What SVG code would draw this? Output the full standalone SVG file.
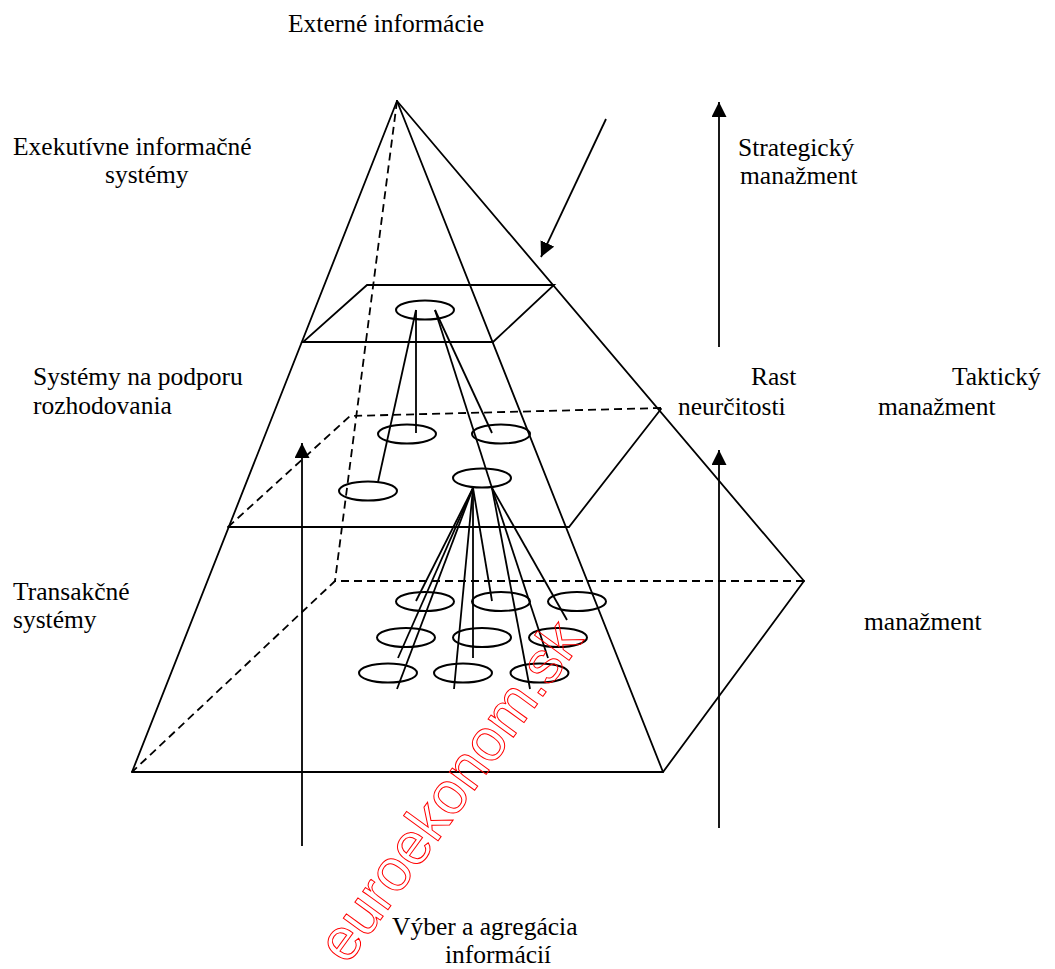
<svg xmlns="http://www.w3.org/2000/svg" width="1055" height="969" viewBox="0 0 1055 969">
<style>
.s{fill:none;stroke:#000;stroke-width:1.8;stroke-linecap:round}
.d{fill:none;stroke:#000;stroke-width:1.8;stroke-dasharray:8 5}
.e{fill:none;stroke:#000;stroke-width:2}
.c{fill:none;stroke:#000;stroke-width:1.8}
.a{fill:none;stroke:#000;stroke-width:1.8;marker-end:url(#ah)}
text{font-family:"Liberation Serif","Times New Roman",serif;font-size:25.5px;fill:#000}
.wm{font-family:"Liberation Sans",Arial,sans-serif;font-size:59px;fill:none;stroke:#f00;stroke-width:1}
</style>
<defs>
<marker id="ah" viewBox="0 0 15 15" refX="15" refY="7.5" markerWidth="15" markerHeight="15" orient="auto" markerUnits="userSpaceOnUse">
<path d="M0,0 L15,7.5 L0,15 Z" fill="#000"/>
</marker>
</defs>
<rect width="1055" height="969" fill="#fff"/>

<g id="pyramid">
<line class="s" x1="397" y1="101" x2="132" y2="772"/>
<line class="s" x1="397" y1="101" x2="663" y2="772"/>
<line class="s" x1="397" y1="101" x2="804" y2="581"/>
<line class="d" x1="397" y1="101" x2="335" y2="581"/>
</g>

<g id="plane-top">
<polygon class="s" points="303,342 493,342 554,285 367,285"/>
</g>

<g id="plane-middle">
<polyline class="s" points="228,527 569,527 661,409"/>
<polyline class="d" points="661,408 350,416 228,527"/>
</g>

<g id="plane-bottom">
<polyline class="s" points="132,772 663,772 804,581"/>
<polyline class="d" points="804,581 335,581 132,772"/>
</g>

<g id="ellipse-top"><ellipse class="e" cx="425" cy="310" rx="29" ry="9.5"/></g>
<g id="ellipse-mid-1"><ellipse class="e" cx="407" cy="434" rx="29" ry="9.5"/></g>
<g id="ellipse-mid-2"><ellipse class="e" cx="501" cy="434" rx="29" ry="9.5"/></g>
<g id="ellipse-mid-3"><ellipse class="e" cx="482" cy="478" rx="29" ry="9.5"/></g>
<g id="ellipse-mid-4"><ellipse class="e" cx="368" cy="491" rx="29" ry="9.5"/></g>
<g id="ellipse-low-11"><ellipse class="e" cx="425" cy="601.5" rx="29" ry="9.5"/></g>
<g id="ellipse-low-12"><ellipse class="e" cx="501" cy="601.5" rx="29" ry="9.5"/></g>
<g id="ellipse-low-13"><ellipse class="e" cx="577" cy="601.5" rx="29" ry="9.5"/></g>
<g id="ellipse-low-21"><ellipse class="e" cx="406" cy="637.5" rx="29" ry="9.5"/></g>
<g id="ellipse-low-22"><ellipse class="e" cx="482" cy="637.5" rx="29" ry="9.5"/></g>
<g id="ellipse-low-23"><ellipse class="e" cx="558" cy="637.5" rx="29" ry="9.5"/></g>
<g id="ellipse-low-31"><ellipse class="e" cx="388" cy="673" rx="29" ry="9.5"/></g>
<g id="ellipse-low-32"><ellipse class="e" cx="463" cy="673" rx="29" ry="9.5"/></g>
<g id="ellipse-low-33"><ellipse class="e" cx="539.5" cy="673" rx="29" ry="9.5"/></g>

<g id="connectors">
<line class="c" x1="416" y1="310" x2="416" y2="433"/>
<line class="c" x1="416" y1="310" x2="378" y2="482"/>
<line class="c" x1="435" y1="310" x2="492" y2="433"/>
<line class="c" x1="435" y1="310" x2="492" y2="488"/>
<line class="c" x1="473" y1="488" x2="416" y2="601"/>
<line class="c" x1="473" y1="488" x2="492" y2="601"/>
<line class="c" x1="473" y1="488" x2="398" y2="658"/>
<line class="c" x1="473" y1="488" x2="473" y2="658"/>
<line class="c" x1="473" y1="488" x2="397" y2="689"/>
<line class="c" x1="473" y1="488" x2="454" y2="689"/>
<line class="c" x1="492" y1="488" x2="567" y2="620"/>
<line class="c" x1="492" y1="488" x2="548" y2="658"/>
<line class="c" x1="492" y1="488" x2="530" y2="689"/>
<line class="a" x1="606" y1="119" x2="541" y2="257"/>
<line class="a" x1="719" y1="347" x2="719" y2="102"/>
<line class="a" x1="719" y1="828" x2="719" y2="450"/>
<line class="a" x1="302" y1="846" x2="302" y2="443"/>
</g>

<g id="labels">
<text x="288" y="32">Externé informácie</text>
<text x="13" y="155">Exekutívne informačné</text>
<text x="105" y="183">systémy</text>
<text x="738" y="156">Strategický</text>
<text x="740" y="184">manažment</text>
<text x="751" y="385">Rast</text>
<text x="678" y="415">neurčitosti</text>
<text x="952" y="385">Taktický</text>
<text x="878" y="415">manažment</text>
<text x="33" y="385">Systémy na podporu</text>
<text x="33" y="414">rozhodovania</text>
<text x="13" y="600">Transakčné</text>
<text x="13" y="628">systémy</text>
<text x="864" y="630">manažment</text>
<text x="392" y="935">Výber a agregácia</text>
<text x="445" y="963">informácií</text>
</g>

<g id="watermark">
<text class="wm" transform="translate(347,966) rotate(-54)">euroekonom.sk</text>
</g>
</svg>
